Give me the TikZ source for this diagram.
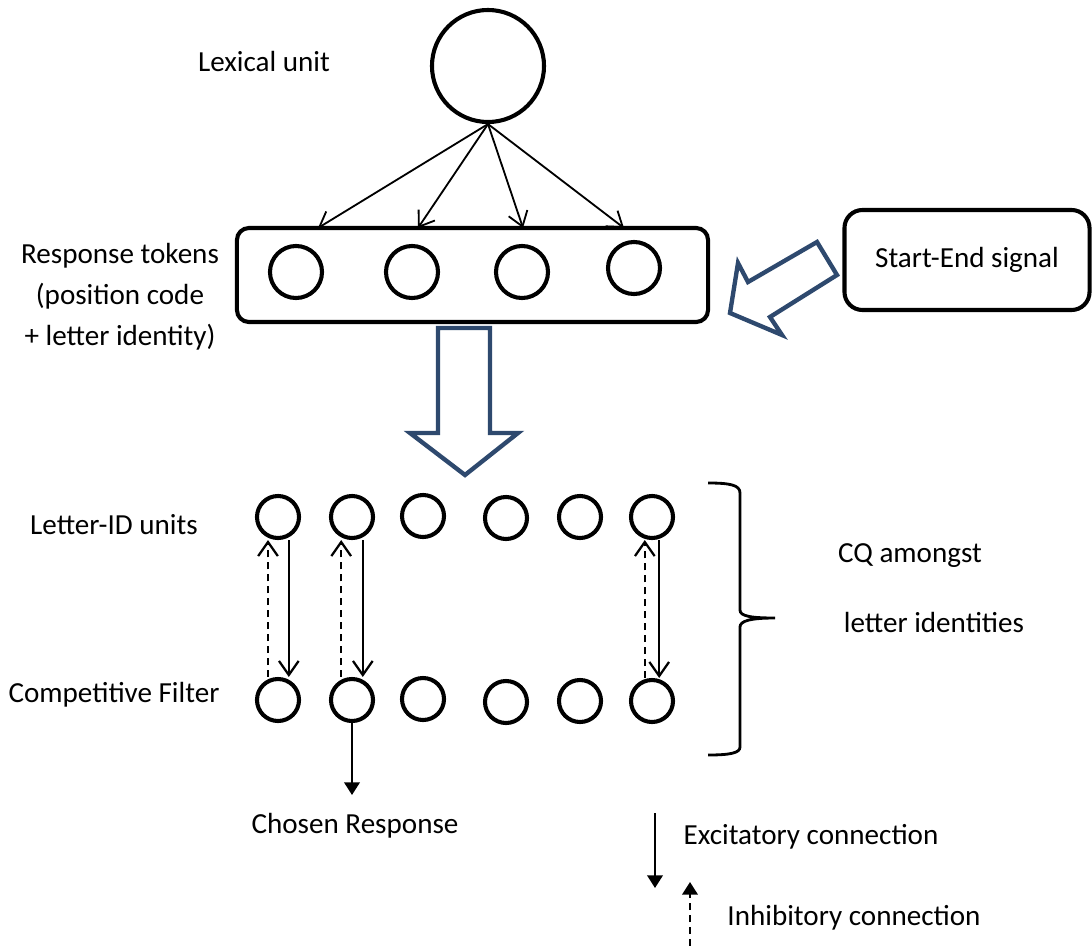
\documentclass[tikz,border=0pt]{standalone}
\usepackage{fontspec}
\setmainfont{Carlito}
\usetikzlibrary{arrows.meta,positioning}
\definecolor{navy}{RGB}{46,73,110}

\begin{document}
\begin{tikzpicture}[x=0.025cm,y=-0.025cm]

      \tikzstyle{unit}=[circle,draw,line width=2.9pt,inner sep=0pt]
      \tikzstyle{box}=[rectangle,rounded corners=0.3cm,draw,
        line width=2.9pt]
      \tikzstyle{txt}=[font=\fontsize{20.7}{29}\selectfont,align=center]
      \tikzstyle{excite}=[line width=1.6pt,
        -{Straight Barb[length=10pt,width=14pt]}]
      \tikzstyle{inhib}=[excite,dash pattern=on 5pt off 3.5pt]
      \tikzstyle{legend}=[line width=1.6pt,
        -{Triangle[length=9pt,width=11pt]}]
      \tikzstyle{bigarrow}=[draw=navy,line width=3.1pt,
        fill=white,line join=miter]

      \useasboundingbox (0,0) rectangle (1092,946);

      \node(Lexical)[unit,minimum size=2.8cm] at (488,66){};
      \node(LexLabel)[txt] at (264,62){Lexical unit};

      \node(Tokens)[box,minimum width=11.775cm,
        minimum height=2.35cm] at (472.5,275){};
      \node(Tok1)[unit,minimum size=1.3cm] at (296,272){};
      \node(Tok2)[unit,minimum size=1.3cm] at (412,272){};
      \node(Tok3)[unit,minimum size=1.3cm] at (522,272){};
      \node(Tok4)[unit,minimum size=1.3cm] at (634,268){};
      \node(TokLabel)[txt] at (120,297){Response tokens\\
        (position code\\+ letter identity)};

      \node(Signal)[box,txt,rounded corners=0.45cm,
        minimum width=6.125cm,minimum height=2.5cm]
        at (967,260){Start-End signal};

      % lexical unit feeds every token
      \coordinate(Hit1) at (318,228);
      \coordinate(Hit2) at (418,228);
      \coordinate(Hit3) at (523,228);
      \coordinate(Hit4) at (624,228);
      \draw [excite,line width=1.3pt] (Lexical.south)--(Hit1);
      \draw [excite,line width=1.3pt] (Lexical.south)--(Hit2);
      \draw [excite,line width=1.3pt] (Lexical.south)--(Hit3);
      \draw [excite,line width=1.3pt] (Lexical.south)--(Hit4);

      % block arrows
      \draw [bigarrow] (817,242)--(837,275)--(770,317)--(782,335)
        --(730,313)--(738,263)--(748,282)--cycle;
      \draw [bigarrow] (438,328)--(490,328)--(490,433)--(518,433)
        --(465,475)--(410,433)--(438,433)--cycle;

      \node(L1)[unit,minimum size=1.05cm] at (278,517){};
      \node(L2)[unit,minimum size=1.05cm] at (352,517){};
      \node(L3)[unit,minimum size=1.05cm] at (423,516){};
      \node(L4)[unit,minimum size=1.05cm] at (506,518){};
      \node(L5)[unit,minimum size=1.05cm] at (580,517){};
      \node(L6)[unit,minimum size=1.05cm] at (652,517){};
      \node(LetterLabel)[txt] at (114,525){Letter-ID units};

      \node(F1)[unit,minimum size=1.05cm] at (278,700){};
      \node(F2)[unit,minimum size=1.05cm] at (352,700){};
      \node(F3)[unit,minimum size=1.05cm] at (423,699){};
      \node(F4)[unit,minimum size=1.05cm] at (506,702){};
      \node(F5)[unit,minimum size=1.05cm] at (580,701){};
      \node(F6)[unit,minimum size=1.05cm] at (652,701){};
      \node(FilterLabel)[txt] at (114,695){Competitive Filter};

      \draw [inhib] ([xshift=-0.25cm]F1.north)--([xshift=-0.25cm]L1.south);
      \draw [excite] ([xshift=0.27cm]L1.south)--([xshift=0.27cm]F1.north);
      \draw [inhib] ([xshift=-0.27cm]F2.north)--([xshift=-0.27cm]L2.south);
      \draw [excite] ([xshift=0.27cm]L2.south)--([xshift=0.27cm]F2.north);
      \draw [inhib] ([xshift=-0.18cm]F6.north)--([xshift=-0.18cm]L6.south);
      \draw [excite] ([xshift=0.18cm]L6.south)--([xshift=0.18cm]F6.north);

      \coordinate(Chosen) at (352,795);
      \draw [legend] (F2.south)--(Chosen);
      \node(ChosenLabel)[txt] at (355,826){Chosen Response};

      % brace over both rows
      \draw [line width=2pt] (708,483) .. controls (730,483) and (740,485) .. (740,493)
        --(740,610) .. controls (740,616) and (750,618) .. (775,618)
        .. controls (750,618) and (740,621) .. (740,627)
        --(740,747) .. controls (740,753) and (730,755) .. (708,755);
      \node(CQ1)[txt] at (910,556){CQ amongst};
      \node(CQ2)[txt] at (934,622){letter identities};

      % legend
      \coordinate(ExcTop) at (655,813);
      \coordinate(ExcEnd) at (655,888);
      \draw [legend] (ExcTop)--(ExcEnd);
      \node(ExcLabel)[txt] at (811,837){Excitatory connection};
      \coordinate(InhTop) at (690,946);
      \coordinate(InhEnd) at (690,882);
      \draw [legend,dash pattern=on 5pt off 3.5pt] (InhTop)--(InhEnd);
      \node(InhLabel)[txt] at (854,918){Inhibitory connection};

    \end{tikzpicture}
\end{document}
